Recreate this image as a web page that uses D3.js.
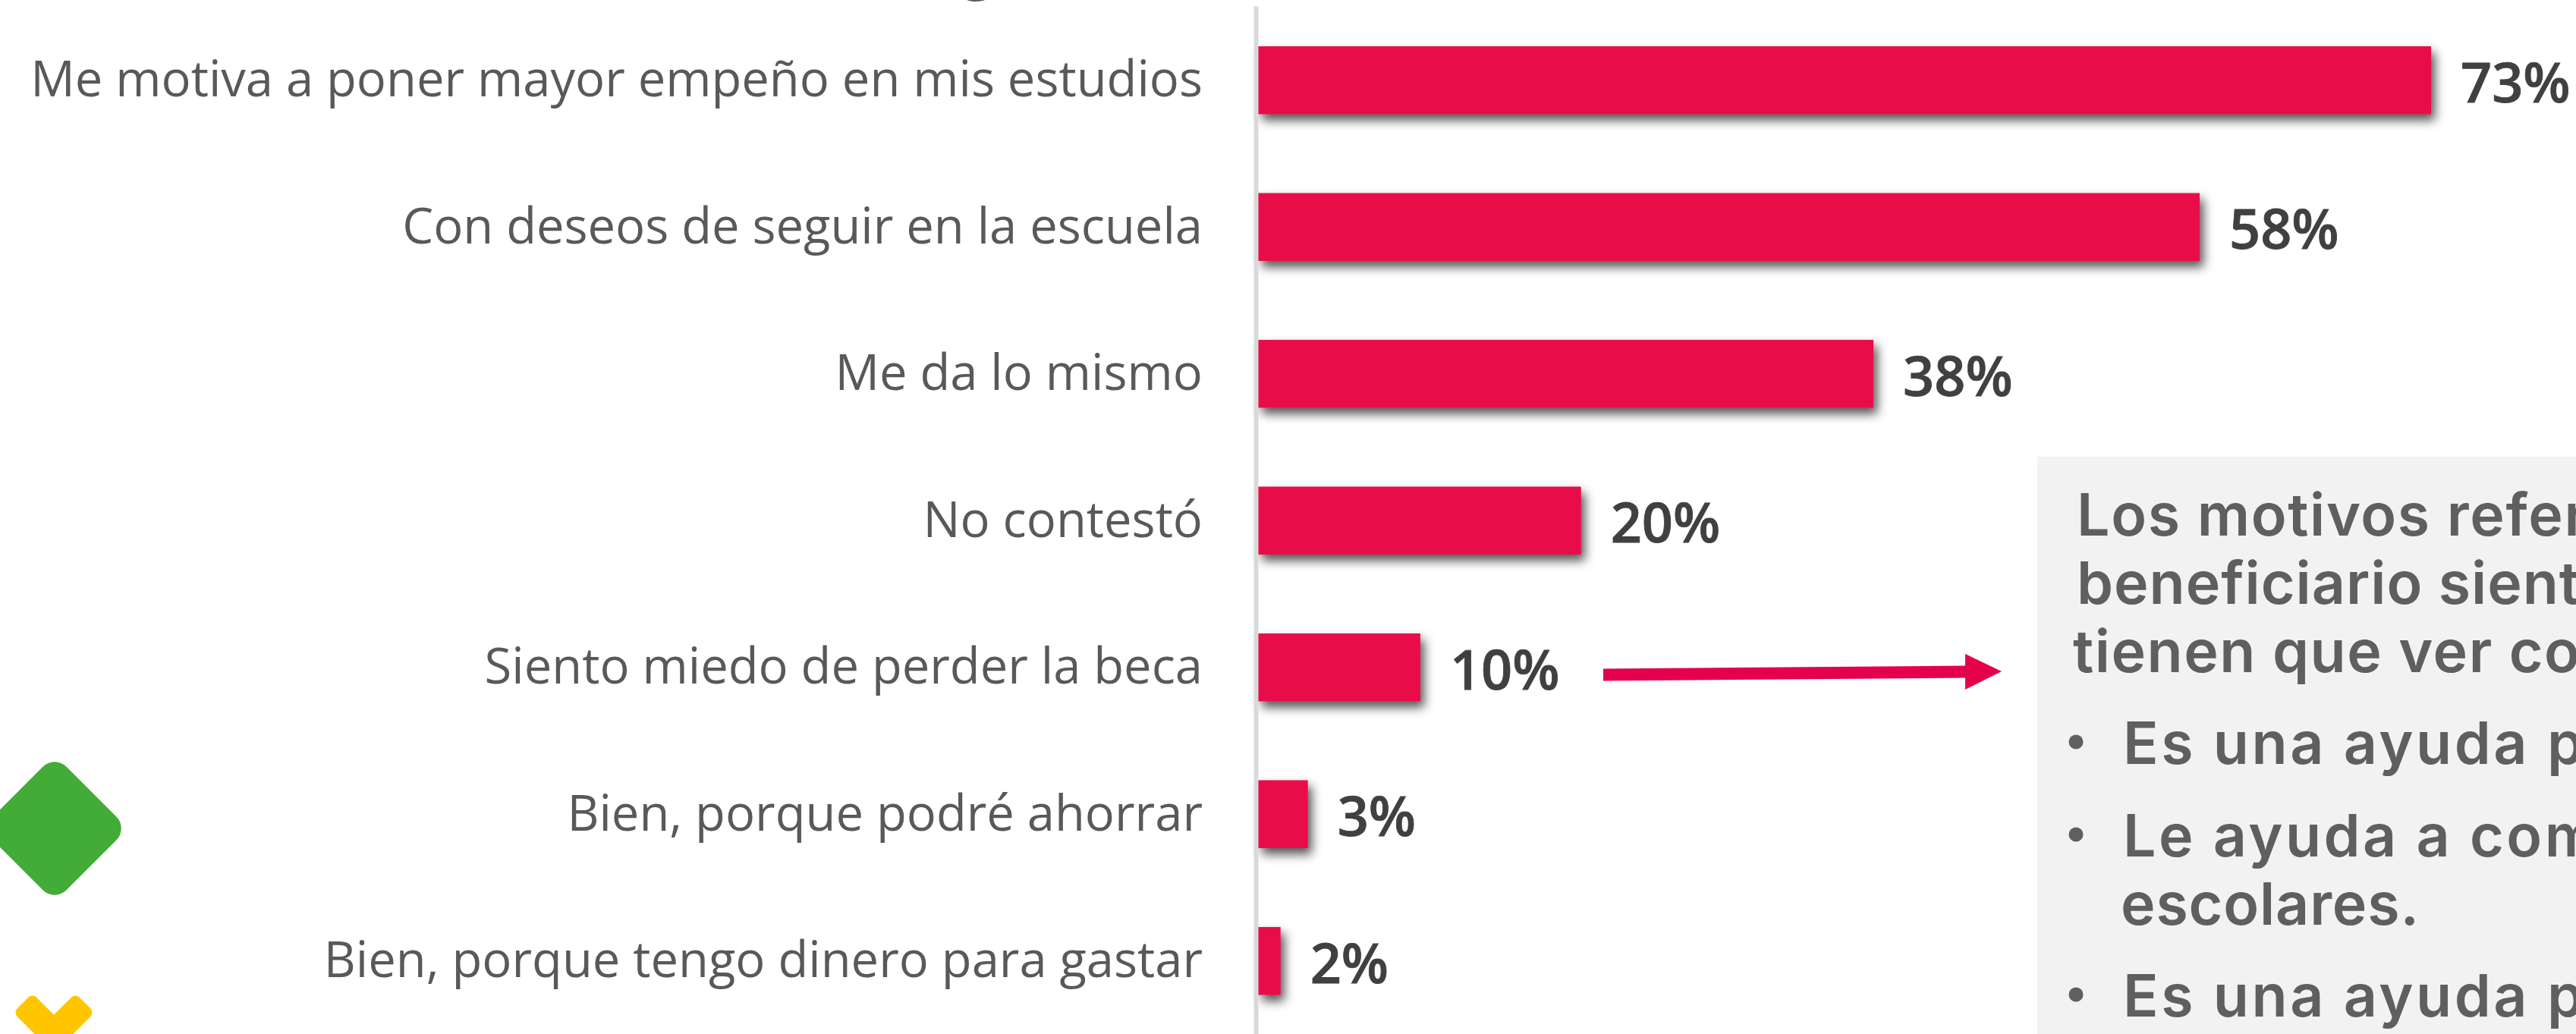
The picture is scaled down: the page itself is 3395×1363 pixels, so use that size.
<!DOCTYPE html>
<html><head><meta charset="utf-8">
<script src="https://cdn.jsdelivr.net/npm/d3@7"></script>
<style>html,body{margin:0;padding:0;background:#fff;overflow:hidden}svg{display:block}</style>
</head><body>
<script>
const categories = ["Me motiva a poner mayor empeño en mis estudios","Con deseos de seguir en la escuela","Me da lo mismo","No contestó","Siento miedo de perder la beca","Bien, porque podré ahorrar","Bien, porque tengo dinero para gastar"];
const values = [73, 58.6, 38.3, 20.1, 10.1, 3.1, 1.4];
const valueLabels = ["73%","58%","38%","20%","10%","3%","2%"];
const noteLines = ["Los motivos refer","beneficiario sient","tienen que ver co"];
const noteBullets = ["Es una ayuda p","Le ayuda a com","escolares.","Es una ayuda p"];

const W=3395,H=1363;
const svg=d3.select("body").append("svg").attr("width",W).attr("height",H).attr("viewBox",`0 0 ${W} ${H}`);
const defs=svg.append("defs");
const f2=defs.append("filter").attr("id","shN").attr("filterUnits","userSpaceOnUse").attr("x",1600).attr("y",0).attr("width",1795).attr("height",1363);
f2.append("feDropShadow").attr("dx",5).attr("dy",8).attr("stdDeviation",7).attr("flood-color","#000").attr("flood-opacity",0.68);

const x=d3.scaleLinear().domain([0,73]).range([1658,3204]);
const y=d3.scaleBand().domain(categories).range([8,1364.5]).paddingInner(0.5375).paddingOuter(0.274);

// bars
svg.append("g").selectAll("rect").data(values).join("rect")
  .attr("x",x(0)).attr("y",(d,i)=>y(categories[i])).attr("width",d=>x(d)-x(0)).attr("height",y.bandwidth())
  .attr("fill","#E80A48").attr("filter","url(#shN)");

// axis
const ax=d3.axisLeft(y).tickSize(0).tickPadding(70);
const axG=svg.append("g").attr("transform","translate(1655,0)").call(ax);
axG.select(".domain").attr("stroke","#d9d9d9").attr("stroke-width",6);
axG.selectAll("text").attr("font-family","'Open Sans'").attr("font-size",65.1).attr("fill","#595959").attr("dy","0.33em");

// value labels
svg.append("g").selectAll("text").data(values).join("text")
  .attr("x",d=>x(d)+39).attr("y",(d,i)=>y(categories[i])+y.bandwidth()/2+29)
  .attr("font-family","'Open Sans'").attr("font-weight",600).attr("font-size",72).attr("fill","#404040")
  .attr("stroke","#404040").attr("stroke-width",0.8)
  .text((d,i)=>valueLabels[i]);

// arrow
svg.append("path").attr("d","M2113,881.5 L2590,877.5 L2590,862 L2638,885 L2590,909 L2590,893.5 L2113,897.5 Z").attr("fill","#E4004B");

// note panel
svg.append("rect").attr("x",2685).attr("y",602).attr("width",W-2685).attr("height",H-602).attr("fill","#f2f2f2");
const noteFont={fam:"Inter",size:77,weight:600};
function note(txt,xp,yp,len){
  svg.append("text").attr("x",xp).attr("y",yp).attr("font-family",noteFont.fam).attr("font-size",noteFont.size)
   .attr("font-weight",noteFont.weight).attr("fill","#5f5f5f").attr("textLength",len).attr("lengthAdjust","spacing").text(txt);
}
note(noteLines[0],2737,706,673);
note(noteLines[1],2737,796,663);
note(noteLines[2],2732,886,668);
note(noteBullets[0],2798,1007,607);
note(noteBullets[1],2798,1129,625);
note(noteBullets[2],2795,1219,393);
note(noteBullets[3],2798,1340,607);
[1004,1126,1337].forEach(b=>svg.append("circle").attr("cx",2736).attr("cy",b-26).attr("r",9.5).attr("fill","#5f5f5f"));

// decorative icons cut by the frame
svg.append("rect").attr("x",-68.5).attr("y",-68.5).attr("width",137).attr("height",137).attr("rx",22)
  .attr("transform","translate(72,1092) rotate(45)").attr("fill","#43AB37");
[45,-45].forEach(a=>svg.append("rect").attr("x",-58).attr("y",-18).attr("width",116).attr("height",36).attr("rx",8)
  .attr("transform",`translate(71,1363) rotate(${a})`).attr("fill","#FFC600"));

// cut-off title fragment
svg.append("text").attr("x",1266).attr("y",-17).attr("font-family","'Open Sans'").attr("font-size",80).attr("font-weight",600).attr("fill","#595959").text("g");
</script>
</body></html>
